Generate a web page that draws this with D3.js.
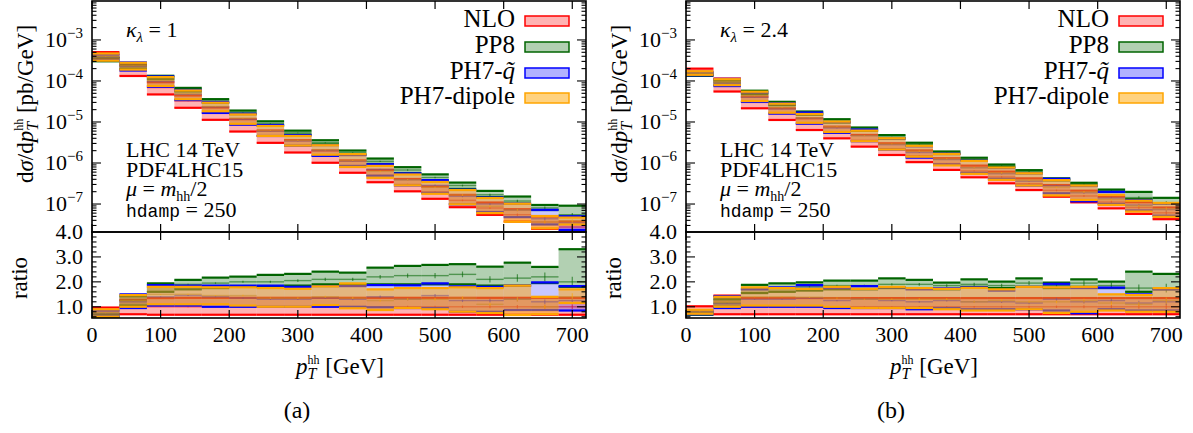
<!DOCTYPE html>
<html><head><meta charset="utf-8">
<script src="https://cdn.jsdelivr.net/npm/d3@7"></script>
<style>
body{margin:0;background:#fff}
svg text{font-family:"Liberation Serif","Times New Roman",serif;fill:#000}
</style>
</head><body>
<svg id="c" width="1193" height="433"></svg>
<script>
// ---------------- data ----------------
const binEdges = [0,40,80,120,160,200,240,280,320,360,400,440,480,520,560,600,640,680,720];
const seriesNames = ["NLO","PP8","PH7-q","PH7-dipole"];
const xTicks = [0,100,200,300,400,500,600,700];
const yMainTicks = [1e-3,1e-4,1e-5,1e-6,1e-7];
const yMainTickLabels = ["−3","−4","−5","−6","−7"];
const yRatioTicks = [1,2,3,4];
const yRatioTickLabels = ["1.0","2.0","3.0","4.0"];

// panel (a): kappa_lambda = 1 -- NLO reference (central) dsigma/dpT [pb/GeV]
const refA = [5.2e-4,1.89e-4,6.9e-5,3.26e-5,1.66e-5,8.6e-6,4.56e-6,2.65e-6,1.49e-6,8.5e-7,5.0e-7,3.0e-7,1.97e-7,1.23e-7,8.0e-8,5.5e-8,3.65e-8,2.75e-8];
// ratios to reference: low edge, high edge, central
const nloLoA = [0.70,0.70,0.68,0.68,0.68,0.68,0.68,0.68,0.68,0.68,0.68,0.68,0.68,0.68,0.68,0.68,0.68,0.68];
const nloHiA = [0.97,1.28,1.35,1.36,1.36,1.36,1.36,1.36,1.36,1.36,1.36,1.36,1.36,1.36,1.36,1.36,1.36,1.36];
const nloCA  = [0.84,1.00,1.00,1.00,1.00,1.00,1.00,1.00,1.00,1.00,1.00,1.00,1.00,1.00,1.00,1.00,1.00,1.00];
const pp8LoA = [0.58,1.05,1.60,1.70,1.75,1.80,1.80,1.85,1.90,1.90,1.90,1.90,1.90,1.90,1.85,1.85,1.95,1.80];
const pp8HiA = [0.72,1.42,1.94,2.08,2.17,2.21,2.28,2.32,2.41,2.37,2.57,2.64,2.68,2.71,2.61,2.77,2.60,3.31];
const pp8CA  = [0.65,1.25,1.80,1.90,1.95,2.00,2.00,2.05,2.10,2.10,2.20,2.25,2.25,2.30,2.10,2.15,2.20,2.00];
const ph7LoA = [0.62,0.95,1.05,1.05,1.00,1.00,1.00,1.00,1.00,1.00,0.98,0.95,0.95,0.80,0.80,0.87,0.87,0.85];
const ph7HiA = [0.85,1.50,1.87,1.85,1.85,1.85,1.85,1.80,1.83,1.83,1.87,1.86,1.94,1.82,1.80,1.85,1.98,1.83];
const ph7CA  = [0.72,1.20,1.40,1.45,1.40,1.35,1.30,1.30,1.35,1.30,1.40,1.30,1.45,1.25,1.25,1.30,1.20,1.25];
const dipLoA = [0.60,1.00,1.10,1.10,1.10,1.05,1.00,1.00,1.07,0.94,0.87,0.95,0.90,0.80,0.75,0.67,0.70,1.15];
const dipHiA = [0.90,1.47,1.80,1.80,1.78,1.78,1.75,1.72,1.82,1.94,1.70,1.75,1.75,1.78,1.75,1.85,1.40,1.70];
const dipCA  = [0.75,1.25,1.50,1.50,1.45,1.45,1.35,1.35,1.40,1.35,1.25,1.30,1.30,1.35,1.10,1.30,1.00,1.40];
const statErrA = [0.01,0.01,0.01,0.015,0.015,0.02,0.02,0.025,0.03,0.03,0.035,0.04,0.045,0.05,0.06,0.07,0.08,0.10];

// panel (b): kappa_lambda = 2.4
const refB = [1.96e-4,7.9e-5,3.08e-5,1.6e-5,9.1e-6,5.7e-6,3.58e-6,2.24e-6,1.5e-6,9.7e-7,6.4e-7,4.57e-7,3.13e-7,2.15e-7,1.57e-7,1.12e-7,8.2e-8,6.1e-8];
const nloLoB = [0.70,0.70,0.70,0.70,0.70,0.70,0.70,0.70,0.70,0.70,0.70,0.70,0.70,0.70,0.70,0.70,0.70,0.70];
const nloHiB = [1.02,1.45,1.35,1.35,1.35,1.35,1.35,1.35,1.35,1.35,1.35,1.35,1.35,1.35,1.35,1.35,1.35,1.35];
const nloCB  = [0.87,1.00,1.00,1.00,1.00,1.00,1.00,1.00,1.00,1.00,1.00,1.00,1.00,1.00,1.00,1.00,1.00,1.00];
const pp8LoB = [0.68,1.00,1.55,1.60,1.65,1.70,1.70,1.75,1.75,1.70,1.80,1.75,1.80,1.75,1.80,1.75,1.60,1.70];
const pp8HiB = [0.78,1.30,1.88,1.94,1.98,2.05,2.05,2.14,2.08,1.97,2.10,2.01,2.14,1.97,2.10,2.01,2.41,2.32];
const pp8CB  = [0.72,1.15,1.70,1.75,1.80,1.85,1.85,1.90,1.90,1.85,1.90,1.85,1.95,1.85,1.95,1.85,1.75,1.75];
const ph7LoB = [0.70,0.95,1.00,1.00,1.00,0.95,0.95,0.95,0.90,0.95,0.90,0.90,0.90,0.85,0.74,0.90,0.85,0.85];
const ph7HiB = [0.85,1.42,1.70,1.78,1.87,1.75,1.83,1.78,1.70,1.74,1.78,1.65,1.80,1.92,1.75,1.77,1.50,1.70];
const ph7CB  = [0.78,1.12,1.30,1.30,1.35,1.25,1.30,1.25,1.20,1.25,1.20,1.20,1.15,1.30,1.20,1.25,1.15,1.20];
const dipLoB = [0.72,1.00,1.05,1.05,1.05,1.00,0.95,0.95,0.95,0.90,0.85,0.85,0.90,0.75,0.80,0.85,0.80,0.80];
const dipHiB = [0.88,1.40,1.78,1.75,1.72,1.80,1.72,1.80,1.75,1.72,1.76,1.70,1.80,1.78,1.80,1.50,1.47,1.75];
const dipCB  = [0.80,1.20,1.40,1.40,1.38,1.35,1.30,1.30,1.30,1.30,1.20,1.25,1.20,1.20,1.25,1.15,1.10,1.25];
const statErrB = [0.01,0.01,0.01,0.015,0.015,0.02,0.02,0.025,0.03,0.03,0.035,0.04,0.045,0.05,0.06,0.07,0.08,0.10];

// ---------------- style ----------------
const seriesStyle = [
  {color:"#ff0000", op:0.30},
  {color:"#006400", op:0.30},
  {color:"#0000ff", op:0.22},
  {color:"#ffa500", op:0.50}
];

const svg = d3.select("#c");
const FS = 22;

function rich(sel, segs, size){
  const t = sel.append("text").attr("font-size", size);
  let cur = 0, lastLen = 0;
  segs.forEach(s=>{
    const fs = s.fs || size;
    const off = s.off || 0;
    const ts = t.append("tspan").text(s.t).attr("font-size", fs).attr("dy", off - cur);
    cur = off;
    if (s.i) ts.attr("font-style","italic");
    if (s.ff) ts.attr("font-family", s.ff);
    if (s.back) ts.attr("dx", -lastLen);
    lastLen = ts.node().getComputedTextLength();
  });
  return t;
}

function drawPanel(p){
  const x0 = p.x0, x1 = p.x0 + 494;
  const x = d3.scaleLinear().domain([0,720]).range([x0, x1]);
  const yM = d3.scaleLog().domain([2.08e-8, 8.9e-3]).range([232, 1]);
  const yR = d3.scaleLinear().domain([0.55, 4]).range([318, 232]);
  const id = p.id;
  const defs = svg.append("defs");
  defs.append("clipPath").attr("id","cm"+id).append("rect").attr("x",x0).attr("y",1).attr("width",494).attr("height",231);
  defs.append("clipPath").attr("id","cr"+id).append("rect").attr("x",x0).attr("y",232).attr("width",494).attr("height",86);
  const gM = svg.append("g").attr("clip-path","url(#cm"+id+")");
  const gR = svg.append("g").attr("clip-path","url(#cr"+id+")");

  const bins = d3.range(binEdges.length-1);
  p.series.forEach((s, k)=>{
    const st = seriesStyle[k];
    [[gM, v=>yM(v), true],[gR, v=>yR(v), false]].forEach(([g, Y, isMain])=>{
      const val = (i, r)=> isMain ? p.ref[i]*r : r;
      const gg = g.append("g");
      gg.selectAll("rect").data(bins).join("rect")
        .attr("x", i=>x(binEdges[i])).attr("width", i=>x(binEdges[i+1])-x(binEdges[i]))
        .attr("y", i=>Y(val(i, s.hi[i]))).attr("height", i=>Y(val(i, s.lo[i]))-Y(val(i, s.hi[i])))
        .attr("fill", st.color).attr("fill-opacity", st.op).attr("stroke","none");
      ["hi","lo"].forEach(e=>{
        gg.selectAll("line.e"+e).data(bins).join("line").attr("class","e"+e)
          .attr("x1", i=>x(binEdges[i])).attr("x2", i=>x(binEdges[i+1]))
          .attr("y1", i=>Y(val(i, s[e][i]))).attr("y2", i=>Y(val(i, s[e][i])))
          .attr("stroke", st.color).attr("stroke-width", 2.2);
      });
      gg.selectAll("line.c").data(bins).join("line").attr("class","c")
        .attr("x1", i=>x(binEdges[i])).attr("x2", i=>x(binEdges[i+1]))
        .attr("y1", i=>Y(val(i, s.c[i]))).attr("y2", i=>Y(val(i, s.c[i])))
        .attr("stroke", k===3 ? "#c88a2a" : st.color).attr("stroke-opacity",0.55).attr("stroke-width", 1.4);
      gg.selectAll("line.err").data(bins).join("line").attr("class","err")
        .attr("x1", i=>x((binEdges[i]+binEdges[i+1])/2)).attr("x2", i=>x((binEdges[i]+binEdges[i+1])/2))
        .attr("y1", i=>Y(val(i, s.c[i]*(1+p.stat[i])))).attr("y2", i=>Y(val(i, s.c[i]*(1-p.stat[i]))))
        .attr("stroke", st.color).attr("stroke-opacity",0.6).attr("stroke-width", 1.2);
    });
  });

  const ax = svg.append("g").attr("stroke","#000");
  ax.append("rect").attr("x",x0).attr("y",1).attr("width",494).attr("height",231).attr("fill","none").attr("stroke-width",1.6);
  ax.append("rect").attr("x",x0).attr("y",232).attr("width",494).attr("height",86).attr("fill","none").attr("stroke-width",1.6);
  xTicks.forEach(v=>{
    [[1,1],[232,-1],[232,1],[318,-1]].forEach(([yy,dir])=>{
      ax.append("line").attr("x1",x(v)).attr("x2",x(v)).attr("y1",yy).attr("y2",yy+dir*8).attr("stroke-width",1.2);
    });
  });
  for (let d=-8; d<=-2; d++){
    for (let m=1; m<=9; m++){
      const v = m*Math.pow(10,d);
      if (v < 2.08e-8 || v > 8.9e-3) continue;
      const len = m===1 ? 9 : 4.5;
      const yy = yM(v);
      ax.append("line").attr("x1",x0).attr("x2",x0+len).attr("y1",yy).attr("y2",yy).attr("stroke-width",1.1);
      ax.append("line").attr("x1",x1).attr("x2",x1-len).attr("y1",yy).attr("y2",yy).attr("stroke-width",1.1);
    }
  }
  for (let v=0.6; v<4.0; v+=0.2){
    const vv = Math.round(v*10)/10;
    const major = Math.abs(vv-Math.round(vv))<1e-6;
    const len = major ? 9 : 4.5;
    const yy = yR(vv);
    ax.append("line").attr("x1",x0).attr("x2",x0+len).attr("y1",yy).attr("y2",yy).attr("stroke-width",1.1);
    ax.append("line").attr("x1",x1).attr("x2",x1-len).attr("y1",yy).attr("y2",yy).attr("stroke-width",1.1);
  }

  const lab = svg.append("g");
  xTicks.forEach(v=>{
    lab.append("text").attr("x",x(v)).attr("y",342).attr("text-anchor","middle").attr("font-size",FS).text(v);
  });
  yMainTicks.forEach((v,i)=>{
    const t = rich(lab, [{t:"10"},{t:yMainTickLabels[i], fs:15, off:-9}], FS);
    t.attr("x", x0-9).attr("y", yM(v)+7).attr("text-anchor","end");
  });
  yRatioTicks.forEach((v,i)=>{
    lab.append("text").attr("x",x0-9).attr("y",yR(v)+7).attr("text-anchor","end").attr("font-size",FS).text(yRatioTickLabels[i]);
  });

  const yl = rich(lab, [{t:"d"},{t:"σ",i:true},{t:"/d"},{t:"p",i:true},{t:"T",i:true,fs:16,off:5},{t:"hh",fs:12,off:-10,back:true},{t:" [pb/GeV]"}], 23);
  yl.attr("text-anchor","middle").attr("transform",`translate(${x0-59},104) rotate(-90)`);
  lab.append("text").attr("text-anchor","middle").attr("font-size",23)
    .attr("transform",`translate(${x0-65},278) rotate(-90)`).text("ratio");
  const xl = rich(lab, [{t:"p",i:true},{t:"T",i:true,fs:16,off:5},{t:"hh",fs:12,off:-10,back:true},{t:" [GeV]"}], 23);
  xl.attr("x", x0+248).attr("y", 374).attr("text-anchor","middle");
  lab.append("text").attr("x", x0+205).attr("y", 418).attr("text-anchor","middle").attr("font-size",24).text(p.label);

  const kl = rich(lab, [{t:"κ",i:true},{t:"λ",i:true,fs:15,off:5},{t:" = "+p.kappa}], FS);
  kl.attr("x", x0+34).attr("y", 37);
  lab.append("text").attr("x",x0+34).attr("y",157).attr("font-size",FS).text("LHC 14 TeV");
  lab.append("text").attr("x",x0+34).attr("y",177).attr("font-size",FS).text("PDF4LHC15");
  const mu = rich(lab, [{t:"μ",i:true},{t:" = "},{t:"m",i:true},{t:"hh",fs:14,off:5},{t:"/2"}], FS);
  mu.attr("x", x0+34).attr("y", 196);
  const hd = rich(lab, [{t:"hdamp", ff:"'Liberation Mono',monospace", fs:18},{t:" = 250"}], FS);
  hd.attr("x", x0+34).attr("y", 217);

  const lg = svg.append("g");
  const rowsY = [21,47,73,98];
  seriesNames.forEach((n,k)=>{
    const st = seriesStyle[k];
    lg.append("rect").attr("x",x1-61).attr("y",rowsY[k]-5).attr("width",44).attr("height",10)
      .attr("fill",st.color).attr("fill-opacity",k===2?0.3:st.op).attr("stroke",st.color).attr("stroke-width",1.5);
    let segs;
    if (k===2) segs = [{t:"PH7-"},{t:"q\u0303",i:true}];
    else segs = [{t:n}];
    const t = rich(lg, segs, 25);
    t.attr("x", x1-71).attr("y", rowsY[k]+6).attr("text-anchor","end");
  });
}

drawPanel({id:"a", x0:92, label:"(a)", kappa:"1", ref:refA, stat:statErrA, series:[
  {lo:nloLoA, hi:nloHiA, c:nloCA},
  {lo:pp8LoA, hi:pp8HiA, c:pp8CA},
  {lo:ph7LoA, hi:ph7HiA, c:ph7CA},
  {lo:dipLoA, hi:dipHiA, c:dipCA}
]});
drawPanel({id:"b", x0:686, label:"(b)", kappa:"2.4", ref:refB, stat:statErrB, series:[
  {lo:nloLoB, hi:nloHiB, c:nloCB},
  {lo:pp8LoB, hi:pp8HiB, c:pp8CB},
  {lo:ph7LoB, hi:ph7HiB, c:ph7CB},
  {lo:dipLoB, hi:dipHiB, c:dipCB}
]});
</script>
</body></html>
